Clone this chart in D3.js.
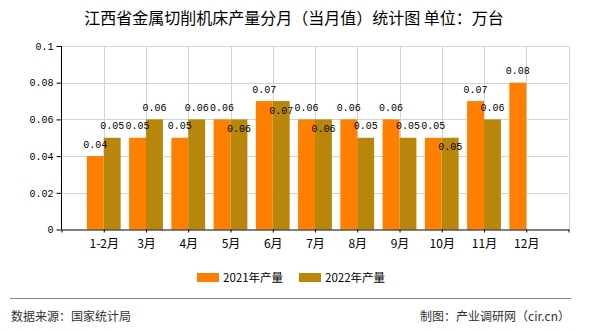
<!DOCTYPE html>
<html><head><meta charset="utf-8">
<script src="https://cdn.jsdelivr.net/npm/d3@7"></script>
<style>
html,body{margin:0;padding:0;background:#fff;}
svg{display:block;}
</style></head>
<body>
<svg id="c" width="590" height="330"></svg>
<script>
const categories = ["1-2月","3月","4月","5月","6月","7月","8月","9月","10月","11月","12月"];
const series2021 = [0.04,0.05,0.05,0.06,0.07,0.06,0.06,0.06,0.05,0.07,0.08];
const series2022 = [0.05,0.06,0.06,0.06,0.07,0.06,0.05,0.05,0.05,0.06,null];
const seriesNames = ["2021年产量","2022年产量"];
const yTickValues = [0,0.02,0.04,0.06,0.08,0.1];
const yTickLabels = ["0","0.02","0.04","0.06","0.08","0.1"];
const titleText = "江西省金属切削机床产量分月（当月值）统计图 单位：万台";
const sourceText = "数据来源：国家统计局";
const creditText = "制图：产业调研网（cir.cn）";

const colors = ["#FF8000","#B8860B"];
const monoFont = "'Liberation Mono','DejaVu Sans Mono',monospace";
const cjkFont = "'Noto Sans CJK SC','Noto Sans',sans-serif";

const svg = d3.select("#c");
const x = d3.scaleLinear().domain([0, categories.length + 1]).range([61.5, 568.5]);
const y = d3.scaleLinear().domain([0, 0.1]).range([229.5, 46]);
const band = x(1) - x(0);
const barW = band * 0.4;

// title
svg.append("text").attr("x", 294).attr("y", 24).attr("text-anchor","middle")
  .attr("font-family", cjkFont).attr("font-size", 16).attr("fill","#000")
  .text(titleText);

// grid
const grid = svg.append("g");
grid.selectAll("line.h").data(yTickValues.filter(v => v > 0)).join("line")
  .attr("x1", x(0)).attr("x2", x(categories.length + 1))
  .attr("y1", d => Math.round(y(d)) + 0.5).attr("y2", d => Math.round(y(d)) + 0.5)
  .attr("stroke", "#d3d3d3");
grid.selectAll("line.v").data(d3.range(1, categories.length + 2)).join("line")
  .attr("x1", d => Math.round(x(d)) + 0.5).attr("x2", d => Math.round(x(d)) + 0.5)
  .attr("y1", y(0.1)).attr("y2", y(0))
  .attr("stroke", "#d3d3d3");

// bars
const allSeries = [series2021, series2022];
allSeries.forEach((s, si) => {
  svg.append("g").selectAll("rect").data(s.map((v, i) => ({v, i})).filter(d => d.v != null)).join("rect")
    .attr("x", d => x(d.i + 1) - barW + si * barW)
    .attr("width", barW)
    .attr("y", d => y(d.v))
    .attr("height", d => y(0) - y(d.v))
    .attr("fill", colors[si]);
});

// axes
const yAxis = svg.append("g").attr("transform", "translate(61.5,0)")
  .call(d3.axisLeft(y).tickValues(yTickValues).tickFormat((d, i) => yTickLabels[i]).tickSize(5).tickPadding(3));
yAxis.select(".domain").attr("d", `M0,${y(0.1)}V${y(0)}`).attr("stroke", "#000");
yAxis.selectAll("text").attr("font-family", monoFont).attr("font-size", 10).attr("fill", "#000");
yAxis.selectAll(".tick line").attr("stroke", "#000");

const xAxis = svg.append("g").attr("transform", `translate(0,${y(0)})`)
  .call(d3.axisBottom(x).tickValues(d3.range(0, categories.length + 2))
    .tickFormat(d => (d >= 1 && d <= categories.length) ? categories[d - 1] : "")
    .tickSize(3).tickSizeOuter(0).tickPadding(7));
xAxis.select(".domain").attr("stroke", "#000");
xAxis.selectAll(".tick line").attr("stroke", "#000");
xAxis.selectAll("text").attr("font-family", cjkFont).attr("font-size", 12).attr("fill", "#000");

// data labels with simple collision avoidance
const lblG = svg.append("g").attr("font-family", monoFont).attr("font-size", 10).attr("fill", "#000").attr("text-anchor", "middle");
const placed = [];
categories.forEach((c, i) => {
  allSeries.forEach((s, si) => {
    const v = s[i];
    if (v == null) return;
    const cx = x(i + 1) - barW / 2 + si * barW;
    let by = y(v) - 8.5;
    const t = lblG.append("text").attr("x", cx).attr("y", by).text(String(v));
    const w = t.node().getComputedTextLength();
    const h = 10;
    let guard = 0;
    while (placed.some(p => Math.abs(p.cx - cx) < (p.w + w) / 2 && Math.abs(p.by - by) < h) && guard < 5) {
      by += 21; guard++;
    }
    t.attr("y", by);
    placed.push({cx, by, w});
  });
});

// legend
const legend = svg.append("g");
const legX = [197, 299];
seriesNames.forEach((n, i) => {
  legend.append("rect").attr("x", legX[i]).attr("y", 273).attr("width", 22).attr("height", 9).attr("fill", colors[i]);
  legend.append("text").attr("x", legX[i] + 26).attr("y", 281.5)
    .attr("font-family", cjkFont).attr("font-size", 11.5).attr("fill", "#000").text(n);
});

// footer
svg.append("line").attr("x1", 10).attr("x2", 571).attr("y1", 298.5).attr("y2", 298.5).attr("stroke", "#888");
svg.append("text").attr("x", 11).attr("y", 321).attr("font-family", cjkFont).attr("font-size", 12).attr("fill", "#333").text(sourceText);
svg.append("text").attr("x", 570).attr("y", 321).attr("text-anchor", "end").attr("font-family", cjkFont).attr("font-size", 12).attr("fill", "#333").text(creditText);
</script>
</body></html>
